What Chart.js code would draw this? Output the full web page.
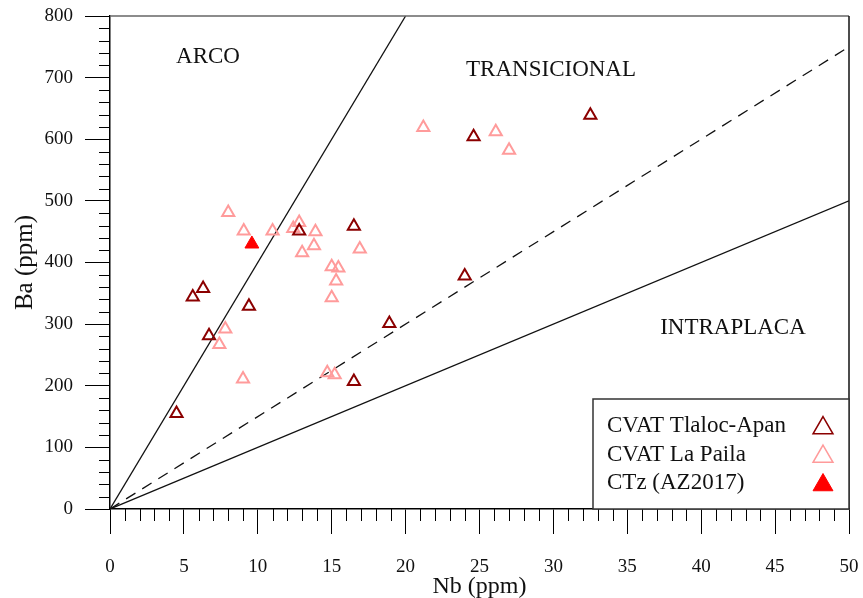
<!DOCTYPE html>
<html>
<head>
<meta charset="utf-8">
<script src="https://cdn.jsdelivr.net/npm/chart.js@4.4.1/dist/chart.umd.min.js"></script>
<style>
  html, body { margin: 0; padding: 0; background: #fff; }
  #wrap { width: 863px; height: 598px; }
</style>
</head>
<body>
<div id="wrap"><canvas id="myChart" width="863" height="598"></canvas></div>
<script>
// Nb (ppm) vs Ba (ppm)
let tlalocNb = [4.5, 5.6, 6.3, 6.7, 9.4, 12.8, 16.5, 18.9, 16.5, 24.0, 24.6, 32.5];
let tlalocBa = [155, 344, 358, 281, 329, 451, 459, 301, 207, 378, 604, 639];

let pailaNb = [8.0, 9.05, 11.0, 12.4, 12.8, 13.9, 13.8, 13.0, 16.9, 15.0, 15.45, 15.3, 15.0, 7.8, 7.4, 9.0, 14.7, 15.2, 21.2, 26.1, 27.0];
let pailaBa = [481, 451, 451, 455, 465, 450, 427, 416, 422, 393, 391, 370, 343, 292, 267, 211, 221, 218, 619, 612, 582];

let ctzNb = [9.6];
let ctzBa = [430];

// Ba/Nb ratios of the field boundaries
let arcoRatio = 40;
let transRatio = 15;
let intraRatio = 10;

let xTicks = [0, 5, 10, 15, 20, 25, 30, 35, 40, 45, 50];
let yTicks = [0, 100, 200, 300, 400, 500, 600, 700, 800];

let fieldNames = ["ARCO", "TRANSICIONAL", "INTRAPLACA"];
let fieldNb = [6.63, 29.84, 42.15];
let fieldBa = [733, 712, 294];

let legendNames = ["CVAT Tlaloc-Apan", "CVAT La Paila", "CTz (AZ2017)"];

(function () {
    const serif = "'Liberation Serif', 'Times New Roman', serif";
    const darkRed = "#8b0000";
    const pink = "#ff9b9b";
    const red = "#ff0000";

    function pts(xs, ys) {
        return xs.map((x, i) => ({ x: x, y: ys[i] }));
    }

    function boundary(ratio) {
        let xEnd = Math.min(50, 800 / ratio);
        return [{ x: 0, y: 0 }, { x: xEnd, y: xEnd * ratio }];
    }

    let lineBase = {
        type: "line",
        borderColor: "#111",
        borderWidth: 1.3,
        pointRadius: 0,
        fill: false,
        tension: 0,
    };

    let datas = {
        datasets: [{
            label: legendNames[2],
            data: pts(ctzNb, ctzBa),
            pointStyle: "triangle",
            pointRadius: 8,
            backgroundColor: red,
            borderColor: red,
            borderWidth: 1,
        }, {
            label: legendNames[0],
            data: pts(tlalocNb, tlalocBa),
            pointStyle: "triangle",
            pointRadius: 7,
            backgroundColor: "rgba(0,0,0,0)",
            borderColor: darkRed,
            borderWidth: 2,
        }, {
            label: legendNames[1],
            data: pts(pailaNb, pailaBa),
            pointStyle: "triangle",
            pointRadius: 7,
            backgroundColor: "rgba(0,0,0,0)",
            borderColor: pink,
            borderWidth: 2,
        },
        Object.assign({ data: boundary(arcoRatio) }, lineBase),
        Object.assign({ data: boundary(transRatio), borderDash: [11, 8] }, lineBase),
        Object.assign({ data: boundary(intraRatio) }, lineBase)
        ]
    };

    // minor ticks, frame, field names and legend box
    let extras = {
        id: "extras",
        afterDraw(chart) {
            let c = chart.ctx;
            let a = chart.chartArea;
            let xs = chart.scales.x;
            let ys = chart.scales.y;
            c.save();
            c.strokeStyle = "#000";
            c.lineWidth = 1;
            c.beginPath();
            for (let v = 0; v <= 50; v++) {
                if (v % 5 === 0) continue;
                let px = Math.round(xs.getPixelForValue(v)) + 0.5;
                c.moveTo(px, a.bottom);
                c.lineTo(px, a.bottom + 12);
            }
            for (let v = 0; v <= 800; v += 20) {
                if (v % 100 === 0) continue;
                let py = Math.round(ys.getPixelForValue(v)) + 0.5;
                c.moveTo(a.left - 11, py);
                c.lineTo(a.left, py);
            }
            c.stroke();

            // frame top / right
            c.lineWidth = 1.5;
            c.strokeStyle = "#666";
            c.beginPath();
            c.moveTo(a.left, a.top);
            c.lineTo(a.right, a.top);
            c.stroke();
            c.strokeStyle = "#111";
            c.beginPath();
            c.moveTo(a.right, a.top);
            c.lineTo(a.right, a.bottom);
            c.stroke();

            // field names
            c.fillStyle = "#111";
            c.font = "23px " + serif;
            c.textAlign = "center";
            c.textBaseline = "middle";
            fieldNames.forEach((t, i) => {
                c.fillText(t, xs.getPixelForValue(fieldNb[i]), ys.getPixelForValue(fieldBa[i]));
            });

            // legend
            let bx = 593, by = 399, bw = a.right - 593, bh = a.bottom - 399;
            c.fillStyle = "#fff";
            c.fillRect(bx, by, bw, bh);
            c.strokeStyle = "#333";
            c.lineWidth = 1.5;
            c.strokeRect(bx, by, bw, bh);
            c.font = "23px " + serif;
            c.textAlign = "left";
            let styles = [
                { fill: "rgba(0,0,0,0)", stroke: darkRed, w: 1.5 },
                { fill: "rgba(0,0,0,0)", stroke: pink, w: 1.5 },
                { fill: red, stroke: red, w: 1 }
            ];
            legendNames.forEach((t, i) => {
                let ty = by + 27 + i * 28.5;
                c.fillStyle = "#111";
                c.fillText(t, 607, ty);
                c.fillStyle = styles[i].fill;
                c.strokeStyle = styles[i].stroke;
                c.lineWidth = styles[i].w;
                Chart.helpers.drawPoint(c, {
                    pointStyle: "triangle",
                    radius: 11.5,
                    borderWidth: styles[i].w,
                    rotation: 0
                }, 823, ty + 2);
            });
            c.restore();
        }
    };

    let option = {
        responsive: false,
        animation: false,
        layout: { padding: { top: 16, right: 14, left: 0, bottom: 0 } },
        plugins: {
            legend: { display: false },
            tooltip: { enabled: false }
        },
        scales: {
            x: {
                type: "linear",
                min: 0,
                max: 50,
                afterFit: s => {
                    s.height = 89;
                    s.paddingLeft = 0;
                    s.paddingRight = 0;
                },
                afterBuildTicks: s => { s.ticks = xTicks.map(v => ({ value: v })); },
                ticks: {
                    color: "#111",
                    padding: 22,
                    font: { family: serif, size: 19 }
                },
                grid: {
                    drawOnChartArea: false,
                    drawTicks: true,
                    tickLength: 25,
                    tickColor: "#000",
                    tickWidth: 1
                },
                border: { display: true, color: "#000", width: 1.5 },
                title: {
                    display: true,
                    text: "Nb (ppm)",
                    color: "#111",
                    padding: { top: 0, bottom: -1 },
                    font: { family: serif, size: 24, lineHeight: 1 }
                }
            },
            y: {
                type: "linear",
                min: 0,
                max: 800,
                afterFit: s => {
                    s.width = 110;
                    s.paddingTop = 0;
                    s.paddingBottom = 0;
                },
                afterBuildTicks: s => { s.ticks = yTicks.map(v => ({ value: v })); },
                ticks: {
                    color: "#111",
                    padding: 12,
                    font: { family: serif, size: 19 }
                },
                grid: {
                    drawOnChartArea: false,
                    drawTicks: true,
                    tickLength: 25,
                    tickColor: "#000",
                    tickWidth: 1
                },
                border: { display: true, color: "#000", width: 1.5 },
                title: {
                    display: true,
                    text: "Ba (ppm)",
                    color: "#111",
                    padding: { top: 13, bottom: 0 },
                    font: { family: serif, size: 25, lineHeight: 1 }
                }
            }
        }
    };

    let ctx = document.getElementById("myChart").getContext("2d");
    let myChart = new Chart(ctx, {
        type: "scatter",
        data: datas,
        options: option,
        plugins: [extras]
    });
})();
</script>
</body>
</html>
